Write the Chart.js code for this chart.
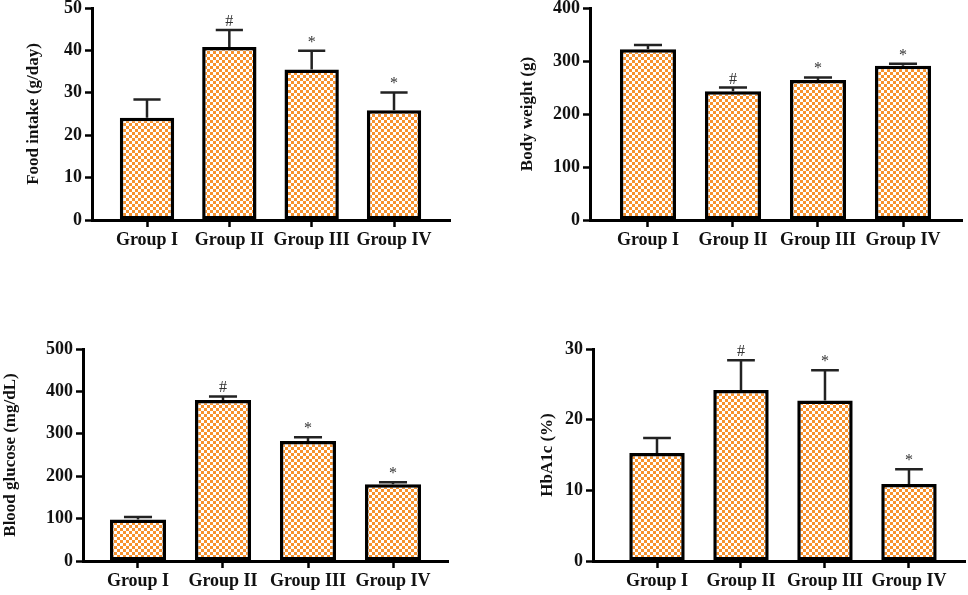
<!DOCTYPE html>
<html>
<head>
<meta charset="utf-8">
<script src="https://cdn.jsdelivr.net/npm/chart.js@4.4.0/dist/chart.umd.min.js"></script>
<style>
  body { margin: 0; background: #fff; width: 968px; height: 595px; position: relative; overflow: hidden; }
  canvas { position: absolute; }
</style>
</head>
<body>
<canvas id="food" width="460" height="260" style="left:0;top:0"></canvas>
<canvas id="weight" width="468" height="260" style="left:500px;top:0"></canvas>
<canvas id="glucose" width="460" height="265" style="left:0;top:330px"></canvas>
<canvas id="hba1c" width="468" height="265" style="left:500px;top:330px"></canvas>
<script>
var groups = ["Group I", "Group II", "Group III", "Group IV"];

var foodIntake = [24.1, 40.8, 35.5, 25.9];
var foodIntakeErr = [4.3, 4.0, 4.4, 4.2];
var foodIntakeSig = ["", "#", "*", "*"];

var bodyWeight = [322, 243, 264, 291];
var bodyWeightErr = [8, 7, 5, 4];
var bodyWeightSig = ["", "#", "*", "*"];

var bloodGlucose = [98, 380, 283, 181];
var bloodGlucoseErr = [6, 8, 9, 5];
var bloodGlucoseSig = ["", "#", "*", "*"];

var hba1c = [15.3, 24.2, 22.7, 10.9];
var hba1cErr = [2.1, 4.2, 4.3, 2.1];
var hba1cSig = ["", "#", "*", "*"];

var serif = "'Liberation Serif', 'Times New Roman', serif";

// orange / white checkerboard fill
function checker(ctx) {
  var p = document.createElement("canvas");
  p.width = 6; p.height = 6;
  var g = p.getContext("2d");
  g.fillStyle = "#fff";
  g.fillRect(0, 0, 6, 6);
  g.fillStyle = "#F7922E";
  g.fillRect(0, 0, 3, 3);
  g.fillRect(3, 3, 3, 3);
  return ctx.createPattern(p, "repeat");
}

var errorBars = {
  id: "errorBars",
  afterDatasetsDraw: function (chart, args, opts) {
    var ctx = chart.ctx;
    var y = chart.scales.y;
    var meta = chart.getDatasetMeta(0);
    var vals = chart.data.datasets[0].data;
    ctx.save();
    ctx.strokeStyle = "#222";
    ctx.lineWidth = 2.5;
    ctx.fillStyle = "#333";
    ctx.font = "16px " + serif;
    ctx.textAlign = "center";
    ctx.textBaseline = "alphabetic";
    meta.data.forEach(function (bar, i) {
      var top = y.getPixelForValue(vals[i].y + opts.errors[i]);
      var half = bar.width / 4;
      ctx.beginPath();
      ctx.moveTo(bar.x, bar.y);
      ctx.lineTo(bar.x, top);
      ctx.moveTo(bar.x - half, top);
      ctx.lineTo(bar.x + half, top);
      ctx.stroke();
      if (opts.marks[i]) ctx.fillText(opts.marks[i], bar.x, top - 4);
    });
    ctx.restore();
  }
};

function makeChart(id, values, errors, marks, title, max, step, box) {
  var ctx = document.getElementById(id).getContext("2d");
  return new Chart(ctx, {
    type: "bar",
    data: {
      datasets: [{
        data: values.map(function (v, i) { return { x: i + 1, y: v }; }),
        backgroundColor: checker(ctx),
        borderColor: "#000",
        borderWidth: 3.5,
        borderSkipped: false,
        barPercentage: 0.66,
        categoryPercentage: 1
      }]
    },
    options: {
      responsive: false,
      animation: false,
      events: [],
      layout: { padding: { top: box.top, right: box.right, left: 0, bottom: 0 } },
      plugins: {
        legend: { display: false },
        tooltip: { enabled: false },
        errorBars: { errors: errors, marks: marks }
      },
      scales: {
        x: {
          type: "linear",
          offset: false,
          min: box.xmin,
          max: box.xmax,
          afterBuildTicks: function (s) {
            s.ticks = groups.map(function (g, i) { return { value: i + 1 }; });
          },
          afterFit: function (s) {
            s.height = box.bottom;
            s.paddingLeft = 0; s.paddingRight = 0;
          },
          ticks: {
            callback: function (v) { return groups[v - 1]; },
            font: { family: serif, size: 18, weight: "bold" },
            color: "#111",
            padding: 3,
            maxRotation: 0,
            autoSkip: false
          },
          grid: { offset: false, drawOnChartArea: false, drawTicks: true, tickLength: 7, tickWidth: 2.5, tickColor: "#000" },
          border: { display: true, color: "#000", width: 3 }
        },
        y: {
          min: 0,
          max: max,
          afterFit: function (s) {
            s.width = box.left;
            s.paddingTop = 0; s.paddingBottom = 0;
          },
          ticks: {
            stepSize: step,
            font: { family: serif, size: 18, weight: "bold" },
            color: "#111",
            padding: 3
          },
          title: {
            display: true,
            text: title,
            font: { family: serif, size: 17, weight: "bold" },
            color: "#111",
            padding: { top: box.titlePad, bottom: 0 }
          },
          grid: { drawOnChartArea: false, drawTicks: true, tickLength: 7, tickWidth: 2.5, tickColor: "#000" },
          border: { display: true, color: "#000", width: 3 }
        }
      }
    },
    plugins: [errorBars]
  });
}

makeChart("food", foodIntake, foodIntakeErr, foodIntakeSig, "Food intake (g/day)", 50, 10,
  { left: 92, top: 8, right: 10, bottom: 40, xmin: 0.332, xmax: 4.68, titlePad: 23 });
makeChart("weight", bodyWeight, bodyWeightErr, bodyWeightSig, "Body weight (g)", 400, 100,
  { left: 90, top: 8, right: 6, bottom: 40, xmin: 0.318, xmax: 4.694, titlePad: 17 });
makeChart("glucose", bloodGlucose, bloodGlucoseErr, bloodGlucoseSig, "Blood glucose (mg/dL)", 500, 100,
  { left: 83, top: 19, right: 12, bottom: 34, xmin: 0.353, xmax: 4.647, titlePad: 0 });
makeChart("hba1c", hba1c, hba1cErr, hba1cSig, "HbA1c (%)", 30, 10,
  { left: 93, top: 19, right: 3, bottom: 34, xmin: 0.238, xmax: 4.667, titlePad: 37 });
</script>
</body>
</html>
